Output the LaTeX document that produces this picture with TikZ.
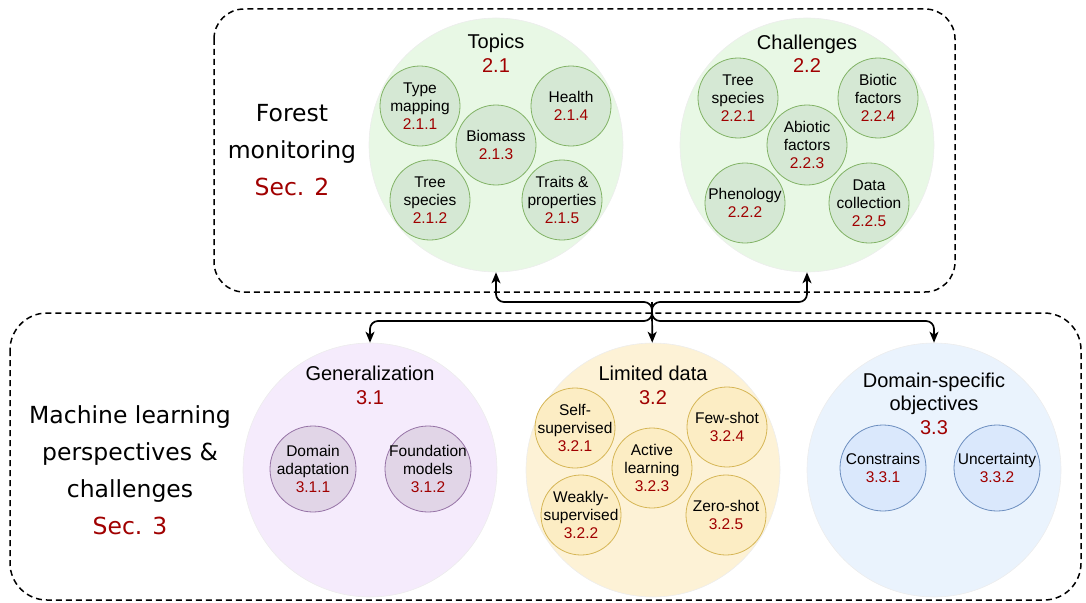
\documentclass[tikz,border=0pt]{standalone}
\usepackage{fontspec}
\setmainfont{Liberation Sans}
\newfontfamily\labfont{DejaVu Sans}
\usetikzlibrary{arrows.meta}
\usetikzlibrary{shapes}
\usepackage{xcolor}

\definecolor{secred}{HTML}{A00000}
\definecolor{grnbig}{HTML}{E8F8E5}
\definecolor{grnin}{HTML}{D5E8D4}
\definecolor{grnln}{HTML}{82B366}
\definecolor{purbig}{HTML}{F5EBFC}
\definecolor{purin}{HTML}{E1D5E7}
\definecolor{purln}{HTML}{9673A6}
\definecolor{yelbig}{HTML}{FDF2D6}
\definecolor{yelin}{HTML}{FCEDC4}
\definecolor{yelln}{HTML}{D6B656}
\definecolor{blubig}{HTML}{EAF3FD}
\definecolor{bluin}{HTML}{DAE8FC}
\definecolor{bluln}{HTML}{6C8EBF}

\newcommand{\snum}[1]{{\color{secred}#1}}

\begin{document}
\begin{tikzpicture}[x=1pt,y=-1pt]
      \tikzset{
        bigc/.style={circle, minimum size=254pt, inner sep=0pt, draw=black!7, line width=0.6pt},
        sub/.style={circle, minimum size=80pt, inner sep=-8pt, line width=0.8pt, align=center,
                    font=\fontsize{15.5}{18}\selectfont},
        subw/.style={sub, minimum size=86pt},
        ttl/.style={align=center, font=\fontsize{20}{23.5}\selectfont},
        sect/.style={align=center, font=\labfont\fontsize{23.5}{37}\selectfont},
        box/.style={line width=1.5pt, dash pattern=on 6pt off 4pt},
        link/.style={-{Stealth[length=11pt,width=9pt,inset=3pt]}, line width=1.7pt, rounded corners=8pt}
      }
      \useasboundingbox (0,0) rectangle (1086,602);

      \draw[box, rounded corners=30pt] (214,9) rectangle (955,292);
      \draw[box, rounded corners=37pt] (10,313) rectangle (1081,600);

      \node[sect] (forest) at (292,150) {Forest\\monitoring\\\snum{Sec. 2}};
      \node[sect] (mlpc) at (130,470) {Machine learning\\perspectives \&\\challenges\\\snum{Sec. 3}};

      % forest monitoring
      \node[bigc, fill=grnbig] (topics) at (496,145) {};
      \node[ttl] (topicst) at (496,53.5) {Topics\\\snum{2.1}};
      \node[sub, fill=grnin, draw=grnln] (tmap)    at (420,106) {Type\\mapping\\\snum{2.1.1}};
      \node[sub, fill=grnin, draw=grnln] (health)  at (571,106) {Health\\\snum{2.1.4}};
      \node[sub, fill=grnin, draw=grnln] (biomass) at (496,145) {Biomass\\\snum{2.1.3}};
      \node[sub, fill=grnin, draw=grnln] (tspec)   at (430,200) {Tree\\species\\\snum{2.1.2}};
      \node[sub, fill=grnin, draw=grnln] (traits)  at (562,200) {Traits \&\\properties\\\snum{2.1.5}};

      \node[bigc, fill=grnbig] (chall) at (807,145) {};
      \node[ttl] (challt) at (807,54) {Challenges\\\snum{2.2}};
      \node[sub, fill=grnin, draw=grnln] (ctree)   at (738,98)  {Tree\\species\\\snum{2.2.1}};
      \node[sub, fill=grnin, draw=grnln] (biotic)  at (878,98)  {Biotic\\factors\\\snum{2.2.4}};
      \node[sub, fill=grnin, draw=grnln] (abiotic) at (807,145) {Abiotic\\factors\\\snum{2.2.3}};
      \node[sub, fill=grnin, draw=grnln] (pheno)   at (745,203) {Phenology\\\snum{2.2.2}};
      \node[sub, fill=grnin, draw=grnln] (datac)   at (869,203) {Data\\collection\\\snum{2.2.5}};

      % machine learning
      \node[bigc, fill=purbig] (gen) at (370,470) {};
      \node[ttl] (gent) at (370,385.5) {Generalization\\\snum{3.1}};
      \node[subw, fill=purin, draw=purln] (dadapt) at (313,469) {Domain\\adaptation\\\snum{3.1.1}};
      \node[subw, fill=purin, draw=purln] (fmodel) at (428,469) {Foundation\\models\\\snum{3.1.2}};

      \node[bigc, fill=yelbig] (limited) at (653,470) {};
      \node[ttl] (limitedt) at (653,385.5) {Limited data\\\snum{3.2}};
      \node[sub, fill=yelin, draw=yelln] (selfsup) at (575,428) {Self-\\supervised\\\snum{3.2.1}};
      \node[sub, fill=yelin, draw=yelln] (fewshot) at (727,427) {Few-shot\\\snum{3.2.4}};
      \node[sub, fill=yelin, draw=yelln] (active)  at (652,468) {Active\\learning\\\snum{3.2.3}};
      \node[sub, fill=yelin, draw=yelln] (weakly)  at (581,515) {Weakly-\\supervised\\\snum{3.2.2}};
      \node[sub, fill=yelin, draw=yelln] (zeroshot) at (726,515) {Zero-shot\\\snum{3.2.5}};

      \node[bigc, fill=blubig] (dso) at (934,470) {};
      \node[ttl] (dsot) at (934,403.5) {Domain-specific\\objectives\\\snum{3.3}};
      \node[subw, fill=bluin, draw=bluln] (constr) at (883,468) {Constrains\\\snum{3.3.1}};
      \node[subw, fill=bluin, draw=bluln] (uncert) at (997,468) {Uncertainty\\\snum{3.3.2}};

      \coordinate (up) at (652,302);
      \coordinate (dn) at (652,321);

      \draw[link] (dn) -- (up) -| (topics);
      \draw[link] (dn) -- (up) -| (chall);
      \draw[link] (up) -- (dn) -| (gen);
      \draw[link] (up) -- (dn) -| (dso);
      \draw[link, rounded corners=0pt] (up) -- (limited);
    \end{tikzpicture}
\end{document}
